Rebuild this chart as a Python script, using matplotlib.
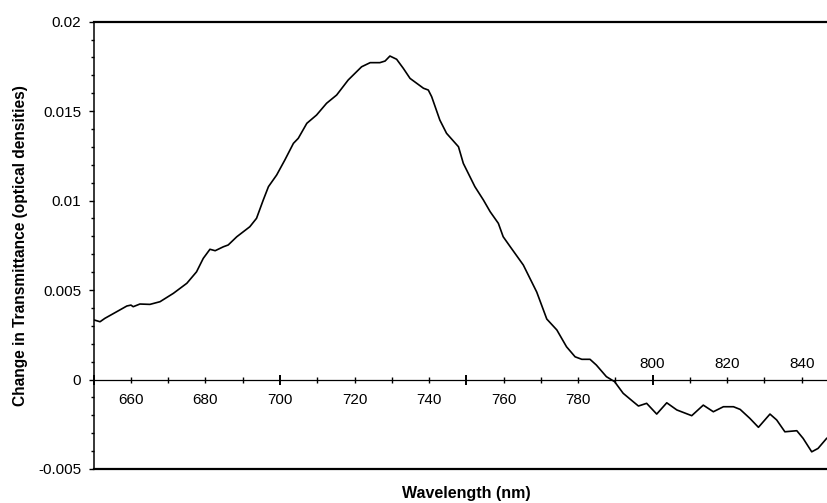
import numpy as np
import matplotlib
matplotlib.use('Agg')
import matplotlib.pyplot as plt
from matplotlib.ticker import MultipleLocator, FuncFormatter, FixedLocator

plt.rcParams['font.family'] = ['Liberation Sans', 'DejaVu Sans']

## wavelength (nm) and change in transmittance (optical densities)
wavelength = [650.1, 651.7, 653.0, 656.0, 658.9, 660.0, 660.6, 662.4, 665.1, 667.8,
              671.4, 675.0, 677.6, 679.4, 681.2, 682.6, 684.8, 686.1, 688.4, 691.9,
              693.7, 695.5, 696.9, 699.1, 701.3, 703.6, 704.9, 707.2, 709.8, 712.5,
              715.2, 718.3, 721.9, 724.2, 726.8, 728.2, 729.5, 731.3, 733.1, 734.9,
              738.5, 739.8, 740.7, 742.9, 744.7, 747.9, 749.2, 752.3, 754.6, 756.4,
              758.6, 759.9, 761.8, 765.3, 768.9, 771.6, 774.3, 776.9, 779.2, 781.0,
              783.2, 784.9, 787.6, 789.8, 792.1, 794.8, 796.2, 798.4, 801.1, 803.8,
              806.5, 810.5, 813.6, 816.3, 819.0, 821.7, 823.5, 826.1, 828.4, 831.5,
              833.3, 835.5, 838.7, 840.4, 842.7, 844.4, 846.7]
change = [0.00333, 0.00323, 0.00342, 0.00377, 0.00411, 0.00416, 0.00407, 0.00422, 0.00420, 0.00435,
          0.00482, 0.00538, 0.00602, 0.00677, 0.00728, 0.00720, 0.00742, 0.00752, 0.00798, 0.00854,
          0.00901, 0.01003, 0.01078, 0.01143, 0.01227, 0.01320, 0.01348, 0.01432, 0.01478, 0.01544,
          0.01590, 0.01674, 0.01748, 0.01771, 0.01771, 0.01780, 0.01808, 0.01790, 0.01739, 0.01683,
          0.01628, 0.01618, 0.01581, 0.01450, 0.01376, 0.01301, 0.01208, 0.01078, 0.01003, 0.00938,
          0.00873, 0.00798, 0.00742, 0.00640, 0.00489, 0.00338, 0.00277, 0.00183, 0.00127, 0.00113,
          0.00113, 0.00081, 0.00016, -0.00012, -0.00077, -0.00124, -0.00148, -0.00133, -0.00193, -0.00130,
          -0.00170, -0.00202, -0.00143, -0.00180, -0.00152, -0.00152, -0.00167, -0.00217, -0.00267, -0.00193,
          -0.00226, -0.00292, -0.00286, -0.00329, -0.00404, -0.00385, -0.00329]

top_labels = [800, 820, 840]

fig = plt.figure(figsize=(8.27, 5.03), dpi=100)
ax = fig.add_axes([0.1133, 0.0676, 0.9011, 0.8893])

ax.plot(wavelength, change, color='black', lw=1.2)
ax.set_xlim(650, 850)
ax.set_ylim(-0.005, 0.02)

## frame: thick top and bottom lines, x axis drawn through zero
ax.spines['right'].set_visible(False)
ax.spines['top'].set_linewidth(1.6)
ax.spines['left'].set_linewidth(1.1)
ax.spines['bottom'].set_position(('data', 0))
ax.spines['bottom'].set_linewidth(0.9)
ax.axhline(-0.005, color='black', lw=1.6, clip_on=False)

## x ticks: every 10 nm, longer every 50, labels every 20 below the axis
ax.xaxis.set_major_locator(MultipleLocator(50))
ax.xaxis.set_minor_locator(MultipleLocator(10))
ax.xaxis.set_major_formatter(FuncFormatter(lambda v, p: '%d' % v if round(v) == 700 else ''))
ax.xaxis.set_minor_formatter(FuncFormatter(
    lambda v, p: '%d' % v if (round(v) % 20 == 0 and v < 790) else ''))
ax.tick_params(axis='x', which='major', direction='inout', length=7.9, width=1.4,
               pad=5.9, labelsize=11)
ax.tick_params(axis='x', which='minor', direction='inout', length=4.8, width=1.0,
               pad=7.45, labelsize=11)

## labels above the axis on the right hand side
sec = ax.secondary_xaxis(0.2)
sec.set_alignment('top')
sec.set_xticks(top_labels)
sec.set_xticklabels([str(v) for v in top_labels])
sec.tick_params(axis='x', length=0, pad=5.8, labelsize=11)
for s in sec.spines.values():
    s.set_visible(False)

## y ticks
ax.yaxis.set_major_locator(MultipleLocator(0.005))
ax.yaxis.set_minor_locator(MultipleLocator(0.001))
ax.yaxis.set_major_formatter(FuncFormatter(lambda v, p: '%g' % round(v, 4)))
ax.tick_params(axis='y', which='major', direction='out', length=3.4, width=1.0,
               pad=5.7, labelsize=11)
ax.tick_params(axis='y', which='minor', direction='out', length=2.4, width=1.0)

ax.set_xlabel('Wavelength (nm)', fontsize=11.5, fontweight='bold')
ax.xaxis.set_label_coords(0.5, -0.037)
ax.set_ylabel('Change in Transmittance (optical densities)', fontsize=11.2, fontweight='bold')
ax.yaxis.set_label_coords(-0.088, 0.5)

plt.savefig('out.png', dpi=100)
